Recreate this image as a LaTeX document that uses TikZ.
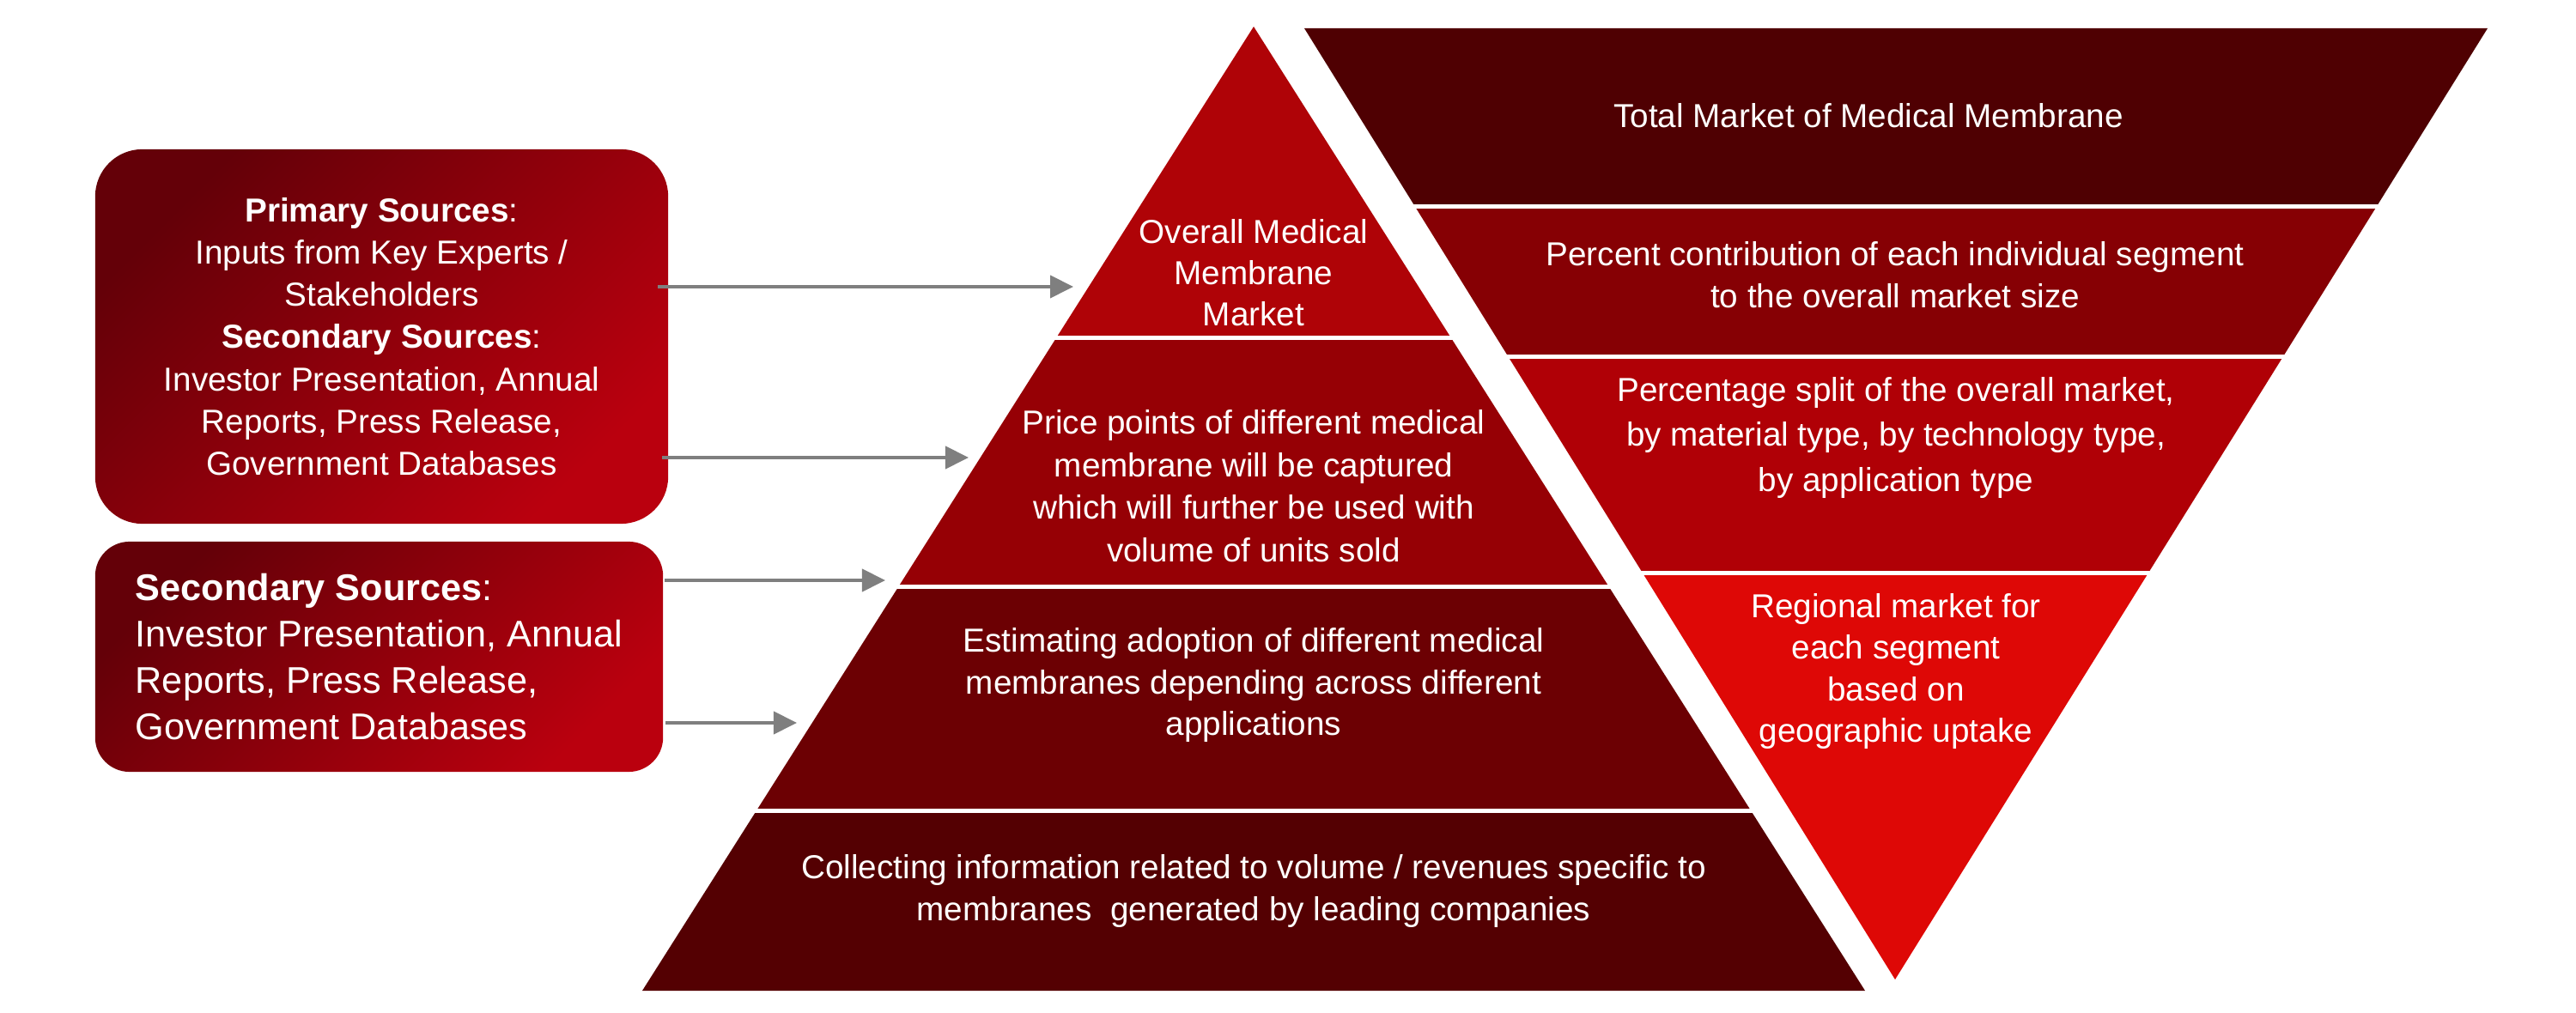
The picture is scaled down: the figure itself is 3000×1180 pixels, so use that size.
\documentclass[tikz,border=0pt]{standalone}
\usepackage{fontspec}
\setmainfont{Liberation Sans}
\usetikzlibrary{arrows.meta}
\definecolor{pyrA}{HTML}{AF0307}
\definecolor{pyrB}{HTML}{960005}
\definecolor{pyrC}{HTML}{6C0003}
\definecolor{pyrD}{HTML}{540002}
\definecolor{invA}{HTML}{4F0002}
\definecolor{invB}{HTML}{860004}
\definecolor{invC}{HTML}{B00006}
\definecolor{invD}{HTML}{DE0806}
\definecolor{boxdark}{HTML}{640008}
\definecolor{boxlight}{HTML}{BA000E}
\definecolor{arrgray}{HTML}{7F7F7F}
\tikzset{
  srcbox/.style={top color=boxdark, bottom color=boxlight, shading angle=45,
    text=white, inner sep=0pt},
  lbl/.style={text=white, align=center, inner sep=0pt,
    font=\fontsize{11}{13.8}\selectfont},
  arr/.style={draw=arrgray, line width=0.04cm,
    -{Triangle[length=0.27cm,width=0.26cm]}}
}
\begin{document}
\begin{tikzpicture}[x=0.01cm,y=-0.01cm]
\useasboundingbox (0,0) rectangle (3000,1180);

% pyramid
\begin{scope}
\clip (1460,31) -- (2172,1154) -- (748,1154) -- cycle;
\fill[pyrA] (700,0) rectangle (2250,391.5);
\fill[pyrB] (700,396.5) rectangle (2250,681.5);
\fill[pyrC] (700,686.5) rectangle (2250,942.5);
\fill[pyrD] (700,947.5) rectangle (2250,1170);
\end{scope}

% inverted triangle
\begin{scope}
\clip (1519,33) -- (2897,33) -- (2207,1141) -- cycle;
\fill[invA] (1500,0) rectangle (2950,238.5);
\fill[invB] (1500,243.5) rectangle (2950,413.5);
\fill[invC] (1500,418.5) rectangle (2950,665.5);
\fill[invD] (1500,670.5) rectangle (2950,1160);
\end{scope}

% source boxes
\node[srcbox, rounded corners=0.55cm, minimum width=6.67cm, minimum height=4.36cm,
  align=center, font=\fontsize{11}{14}\selectfont] (box1) at (444.5,392)
  {\textbf{Primary Sources}:\\Inputs from Key Experts /\\Stakeholders\\
   \textbf{Secondary Sources}:\\Investor Presentation, Annual\\Reports, Press Release,\\Government Databases};
\node[srcbox, rounded corners=0.4cm, minimum width=6.61cm, minimum height=2.68cm,
  align=left, font=\fontsize{12.3}{15.4}\selectfont]
  (box2) at (441.5,765)
  {\textbf{Secondary Sources}:\\Investor Presentation, Annual\\Reports, Press Release,\\Government Databases};

% pyramid labels
\node[lbl, font=\fontsize{11}{13.6}\selectfont] (p1) at (1460,318) {Overall Medical\\Membrane\\Market};
\node[lbl, font=\fontsize{11}{14.1}\selectfont] (p2) at (1460,566) {Price points of different medical\\membrane will be captured\\which will further be used with\\volume of units sold};
\node[lbl] (p3) at (1460,798) {Estimating adoption of different medical\\membranes depending across different\\applications};
\node[lbl] (p4) at (1460,1038) {Collecting information related to volume / revenues specific to\\membranes\ \ generated by leading companies};

% inverted labels
\node[lbl] (q1) at (2176,135) {Total Market of Medical Membrane};
\node[lbl] (q2) at (2207,320) {Percent contribution of each individual segment\\to the overall market size};
\node[lbl, font=\fontsize{11}{15}\selectfont] (q3) at (2208,510) {Percentage split of the overall market,\\by material type, by technology type,\\by application type};
\node[lbl] (q4) at (2208,782) {Regional market for\\each segment\\based on\\geographic uptake};

% arrows
\coordinate (a1s) at (766,334);  \coordinate (a1e) at (1250,334);
\coordinate (a2s) at (771,533);  \coordinate (a2e) at (1128,533);
\coordinate (a3s) at (774,676);  \coordinate (a3e) at (1031,676);
\coordinate (a4s) at (775,842);  \coordinate (a4e) at (928,842);
\draw[arr] (a1s) -- (a1e);
\draw[arr] (a2s) -- (a2e);
\draw[arr] (a3s) -- (a3e);
\draw[arr] (a4s) -- (a4e);
\end{tikzpicture}
\end{document}
